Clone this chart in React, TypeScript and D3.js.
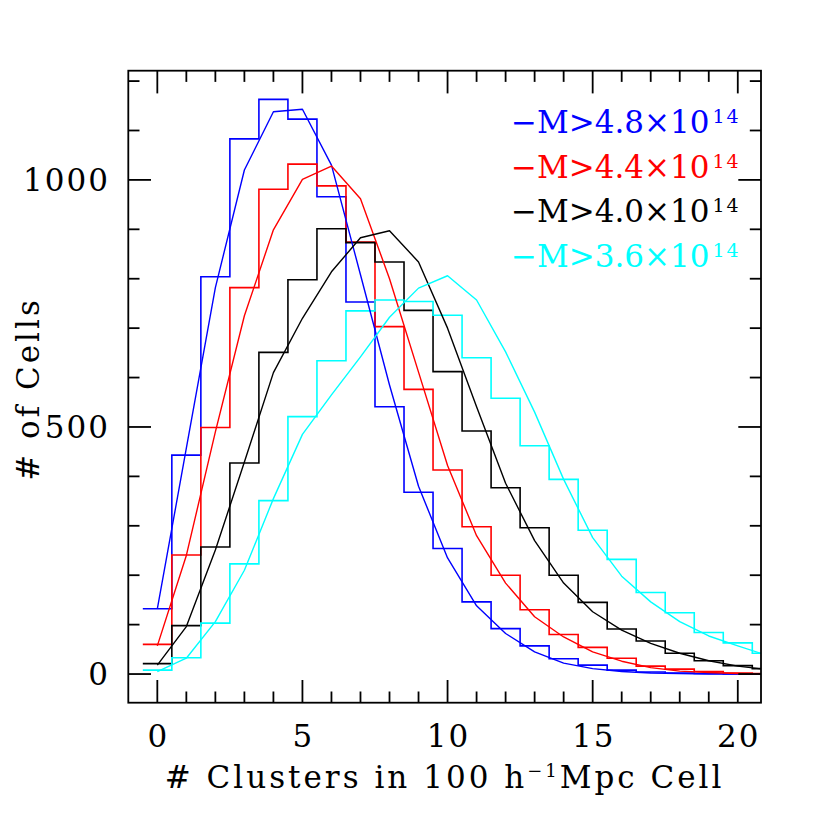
import React from 'react';
import * as d3 from 'd3';

// bins are centred on integer cluster counts 0..21
const binCentres = d3.range(0, 22);

// histograms (# of cells per bin)
const blueHist = [132, 443, 804, 1083, 1163, 1123, 966, 753, 541, 368, 254, 146, 92, 57, 31, 18, 8, 4, 2, 1, 0, 0];
const redHist = [60, 241, 499, 782, 981, 1032, 988, 874, 703, 576, 413, 298, 200, 130, 80, 54, 32, 16, 10, 5, 2, 1];
const blackHist = [21, 98, 257, 427, 651, 798, 901, 873, 834, 736, 612, 492, 377, 296, 200, 145, 91, 67, 42, 27, 17, 11];
const cyanHist = [8, 33, 103, 223, 351, 521, 634, 735, 757, 754, 726, 640, 558, 462, 394, 291, 232, 165, 124, 84, 63, 42];

// model curves, sampled at the same integer counts
const blueFit = [132, 457, 782, 1020, 1138, 1143, 1030, 808, 585, 380, 235, 138, 82, 45, 22, 11, 5, 2, 1, 0, 0, 0];
const redFit = [57, 240, 490, 725, 899, 1001, 1028, 962, 800, 611, 422, 280, 184, 116, 75, 45, 26, 13, 6, 3, 1, 0];
const blackFit = [18, 96, 251, 429, 610, 720, 814, 883, 897, 834, 700, 541, 386, 270, 184, 126, 89, 62, 42, 27, 16, 9];
const cyanFit = [5, 32, 106, 210, 355, 485, 565, 642, 722, 781, 806, 757, 652, 530, 394, 276, 198, 146, 106, 77, 57, 38];

const massCuts = ['4.8', '4.4', '4.0', '3.6'];
const colors = ['#0000ff', '#ff0000', '#000000', '#00ffff'];

const xMajor = [0, 5, 10, 15, 20];
const xMinor = d3.range(0, 21);
const yMajor = [0, 500, 1000];
const yMinor = d3.range(0, 1201, 100);

const series = [
  { hist: blueHist, fit: blueFit },
  { hist: redHist, fit: redFit },
  { hist: blackHist, fit: blackFit },
  { hist: cyanHist, fit: cyanFit },
];

const App = () => {
  const width = 830;
  const height = 830;
  const left = 128.3, right = 761, top = 70.7, bottom = 702.7;

  const x = d3.scaleLinear().domain([-1, 20.8]).range([left, right]);
  const y = d3.scaleLinear().domain([-58, 1221]).range([bottom, top]);

  // histogram: flat across each bin, from c-0.5 to c+0.5
  const step = d3.line<[number, number]>()
    .x((d) => x(d[0]))
    .y((d) => y(d[1]))
    .curve(d3.curveStepAfter);
  const histPts = (vals: number[]): [number, number][] => {
    const pts: [number, number][] = vals.map((v, i) => [binCentres[i] - 0.5, v]);
    pts.push([binCentres[vals.length - 1] + 0.5, vals[vals.length - 1]]);
    return pts;
  };

  const fitLine = d3.line<number>()
    .x((d, i) => x(binCentres[i]))
    .y((d) => y(d));

  const font = 'DejaVu Serif';
  const fs = 31;
  const major = 22.7;
  const minor = 11.2;

  return (
    <svg width={width} height={height} style={{ position: 'absolute', left: 0, top: 0, background: '#fff' }}>
      <defs>
        <clipPath id="plot">
          <rect x={left} y={top} width={right - left} height={bottom - top} />
        </clipPath>
      </defs>

      <g clipPath="url(#plot)" fill="none">
        {series.map((s, i) => (
          <path key={'h' + i} d={step(histPts(s.hist)) || ''} stroke={colors[i]} strokeWidth={1.6} />
        ))}
        {series.map((s, i) => (
          <path key={'f' + i} d={fitLine(s.fit) || ''} stroke={colors[i]} strokeWidth={1.4} strokeLinejoin="round" />
        ))}
      </g>

      {/* frame and ticks on all four sides */}
      <g stroke="#000" strokeWidth={1.8}>
        <rect x={left} y={top} width={right - left} height={bottom - top} fill="none" />
        {xMinor.map((t) => {
          const len = xMajor.includes(t) ? major : minor;
          return (
            <g key={'xt' + t}>
              <line x1={x(t)} x2={x(t)} y1={bottom} y2={bottom - len} />
              <line x1={x(t)} x2={x(t)} y1={top} y2={top + len} />
            </g>
          );
        })}
        {yMinor.map((t) => {
          const len = yMajor.includes(t) ? major : minor;
          return (
            <g key={'yt' + t}>
              <line x1={left} x2={left + len} y1={y(t)} y2={y(t)} />
              <line x1={right} x2={right - len} y1={y(t)} y2={y(t)} />
            </g>
          );
        })}
      </g>

      <g fontFamily={font} fontSize={fs} fill="#000" letterSpacing={2}>
        {xMajor.map((t) => (
          <text key={'xl' + t} x={x(t) + 1} y={747} textAnchor="middle">{t}</text>
        ))}
        {yMajor.map((t) => (
          <text key={'yl' + t} x={110} y={y(t) + 11} textAnchor="end">{t}</text>
        ))}
      </g>

      <text x={444.6} y={788} fontFamily={font} fontSize={fs} textAnchor="middle" letterSpacing={3}>
        <tspan># Clusters in 100 h</tspan>
        <tspan dy={-11} fontSize={18}>−1</tspan>
        <tspan dy={11}>Mpc Cell</tspan>
      </text>

      <text transform="translate(39,389) rotate(-90)" fontFamily={font} fontSize={fs} textAnchor="middle" letterSpacing={3}>
        # of Cells
      </text>

      <g fontFamily={font} fontSize={fs}>
        {massCuts.map((m, i) => (
          <text key={'lg' + i} x={511} y={133.3 + i * 44.5} fill={colors[i]}>
            <tspan>{`−M>${m}×10`}</tspan>
            <tspan dx={3} dy={-10} fontSize={19} letterSpacing={2}>14</tspan>
          </text>
        ))}
      </g>
    </svg>
  );
};

export default App;
